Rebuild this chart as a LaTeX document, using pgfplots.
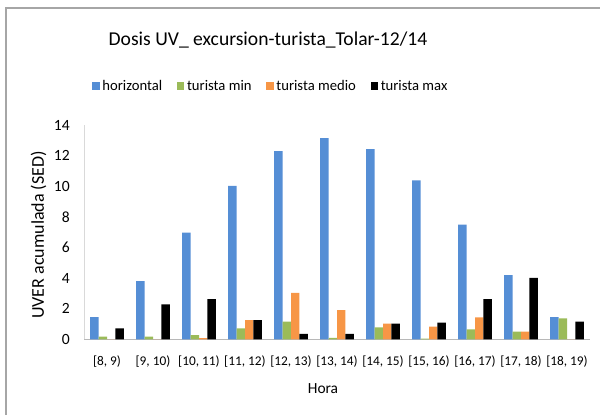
\documentclass[border=0pt]{standalone}
\usepackage{pgfplots}
\pgfplotsset{compat=1.18}
\usepackage{fontspec}
\setmainfont{Carlito}
\definecolor{cblue}{HTML}{558ED5}
\definecolor{cgreen}{HTML}{9BBB59}
\definecolor{corange}{HTML}{F79646}
\definecolor{cframe}{HTML}{A6A6A6}

\pgfplotsset{sqbar/.style={ybar, bar width=0.184, draw=none,
  legend image code/.code={\fill[##1] (0pt,-2.8pt) rectangle (5.6pt,2.8pt);}}}

\begin{document}
\begin{tikzpicture}
\useasboundingbox (0,0) rectangle (450pt,-311.25pt);
\draw[cframe, line width=0.8pt] (4.5pt,-311.25pt) -- (4.5pt,-6pt) -- (450pt,-6pt);
\node[anchor=base, font=\fontsize{14.7}{17}\selectfont] at (201pt,-34.3pt)
  {Dosis UV\_ excursion-turista\_Tolar-12/14};
\node[rotate=90, font=\fontsize{13.5}{15}\selectfont] at (28.9pt,-176.2pt) {UVER acumulada (SED)};
\node[anchor=base, font=\fontsize{11.6}{13}\selectfont] at (242.25pt,-295pt) {Hora};
\begin{axis}[
  at={(63pt,-254.5pt)}, anchor=south west,
  width=379.5pt, height=160.7pt, scale only axis,
  xmin=-0.5, xmax=10.5, ymin=0, ymax=14,
  ytick={0,2,...,14}, xtick={0,...,10},
  xticklabels={{[8, 9)},{[9, 10)},{[10, 11)},{[11, 12)},{[12, 13)},{[13, 14)},
    {[14, 15)},{[15, 16)},{[16, 17)},{[17, 18)},{[18, 19)}},
  axis x line=bottom, axis y line=left,
  x axis line style={-, black!28, line width=1.1pt},
  y axis line style={-, black!15, line width=0.6pt},
  major tick length=0pt, tick style={draw=none},
  /pgf/number format/assume math mode=true,
  yticklabel style={anchor=east, inner sep=0pt, xshift=-10.5pt, font=\fontsize{11.7}{13}\selectfont},
  xticklabel style={anchor=base, inner sep=0pt, yshift=-19.8pt, font=\fontsize{10}{12}\selectfont},
  clip=false,
  legend columns=4,
  legend style={at={(0.37,1.182)}, anchor=center, draw=none, fill=none,
    font=\fontsize{11}{13}\selectfont,
    /tikz/every even column/.append style={column sep=9pt}},
]
\addplot[sqbar, bar shift=-0.276, fill=cblue] coordinates {
  (0,1.45) (1,3.8) (2,6.97) (3,10.02) (4,12.3) (5,13.15) (6,12.43) (7,10.38) (8,7.5) (9,4.2) (10,1.45)};
\addlegendentry{horizontal}
\addplot[sqbar, bar shift=-0.092, fill=cgreen] coordinates {
  (0,0.17) (1,0.17) (2,0.28) (3,0.72) (4,1.15) (5,0.1) (6,0.78) (7,0.05) (8,0.65) (9,0.5) (10,1.37)};
\addlegendentry{turista min}
\addplot[sqbar, bar shift=0.092, fill=corange] coordinates {
  (0,0) (1,0) (2,0.08) (3,1.26) (4,3.04) (5,1.91) (6,1.02) (7,0.83) (8,1.44) (9,0.5) (10,0)};
\addlegendentry{turista medio}
\addplot[sqbar, bar shift=0.276, fill=black] coordinates {
  (0,0.72) (1,2.29) (2,2.63) (3,1.26) (4,0.35) (5,0.35) (6,1.02) (7,1.09) (8,2.63) (9,4.02) (10,1.15)};
\addlegendentry{turista max}
\end{axis}
\end{tikzpicture}
\end{document}
